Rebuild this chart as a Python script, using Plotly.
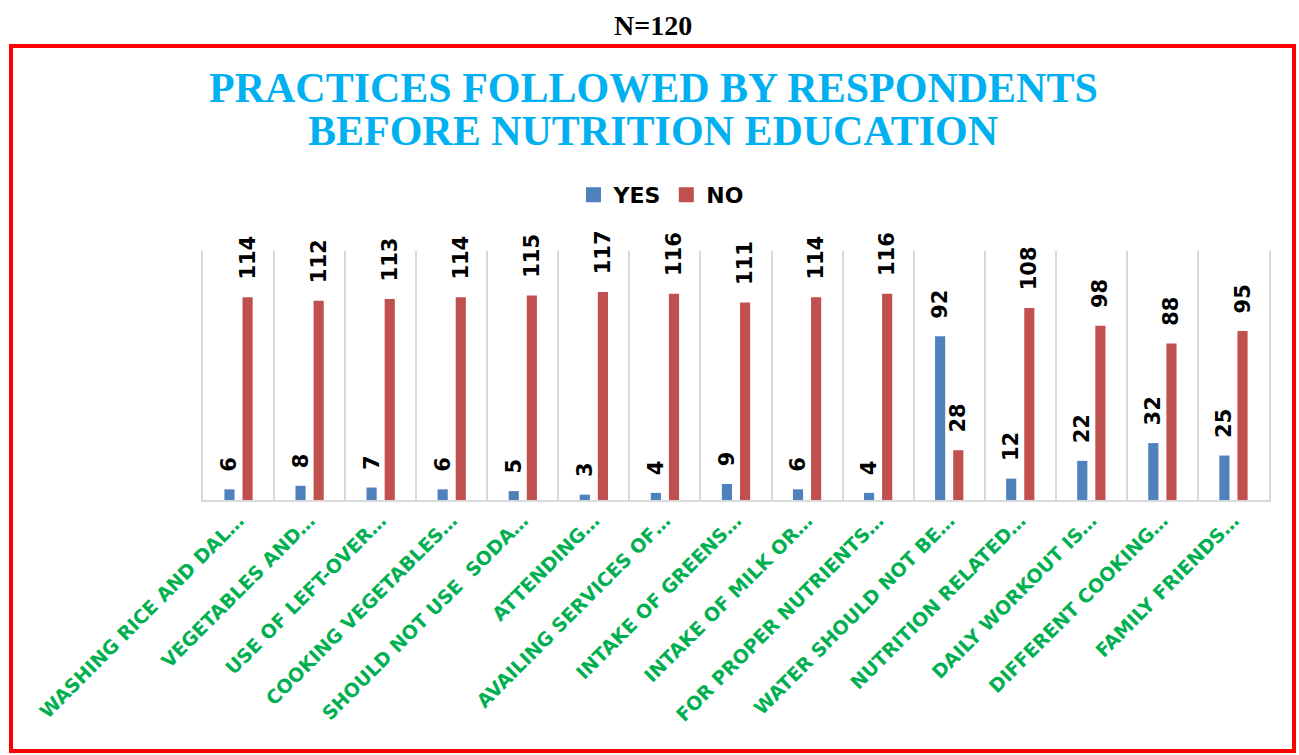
import plotly.graph_objects as go

practices = [
    "WASHING RICE AND DAL…",
    "VEGETABLES AND…",
    "USE OF LEFT-OVER…",
    "COOKING VEGETABLES…",
    "SHOULD NOT USE\u00a0\u00a0SODA…",
    "ATTENDING…",
    "AVAILING SERVICES OF…",
    "INTAKE OF GREENS…",
    "INTAKE OF MILK OR…",
    "FOR PROPER NUTRIENTS…",
    "WATER SHOULD NOT BE…",
    "NUTRITION RELATED…",
    "DAILY WORKOUT IS…",
    "DIFFERENT COOKING…",
    "FAMILY FRIENDS…",
]
yes_counts = [6, 8, 7, 6, 5, 3, 4, 9, 6, 4, 92, 12, 22, 32, 25]
no_counts = [114, 112, 113, 114, 115, 117, 116, 111, 114, 116, 28, 108, 98, 88, 95]

W, H = 1299, 755
# plot area in pixels
L, R, T, B = 203, 30, 251, 255
pw, ph = W - L - R, H - T - B


def px_x(x):
    return (x - L) / pw


def px_y(y):
    return (H - B - y) / ph


positions = list(range(len(practices)))
label_font = dict(family="DejaVu Sans", size=21, color="black", weight="bold")
title_font = dict(family="Liberation Serif, Times New Roman", size=42, color="#00B0F0", weight="bold")

fig = go.Figure()
for name, vals, color in [("YES", yes_counts, "#4F81BD"), ("NO", no_counts, "#C0504D")]:
    fig.add_trace(go.Bar(
        x=positions, y=vals, name=name, showlegend=False,
        marker=dict(color=color, line=dict(width=0)),
        text=["\u00a0\u00a0" + str(v) for v in vals],
        textposition="outside", textangle=-90,
        textfont=label_font, constraintext="none", cliponaxis=False,
    ))
    # legend-only entry with a bigger square swatch
    fig.add_trace(go.Scatter(
        x=[None], y=[None], name=name, mode="markers",
        marker=dict(symbol="square", size=15, color=color),
    ))

fig.update_layout(
    width=W, height=H,
    margin=dict(l=L, r=R, t=T, b=B),
    paper_bgcolor="white", plot_bgcolor="white",
    barmode="group", bargap=0.49, bargroupgap=0.44,
    legend=dict(
        orientation="h", x=px_x(661), xanchor="center", y=px_y(195), yanchor="middle",
        font=dict(family="DejaVu Sans", size=22, color="black", weight="bold"),
        traceorder="normal", itemwidth=30,
    ),
    xaxis=dict(
        range=[-0.5, len(practices) - 0.5], automargin=False,
        tickvals=positions, ticktext=practices, tickangle=-45,
        tickfont=dict(family="DejaVu Sans", size=19, color="#00B050", weight="bold"),
        showgrid=False, zeroline=False, ticks="",
        showline=True, linecolor="#D9D9D9", linewidth=2,
        minor=dict(tick0=-0.5, dtick=1, showgrid=True, gridcolor="#D9D9D9", gridwidth=1.5),
    ),
    yaxis=dict(
        range=[0, 140], automargin=False, showgrid=False, zeroline=False, showticklabels=False,
        showline=True, mirror=True, linecolor="#D9D9D9", linewidth=1.5,
    ),
    annotations=[
        dict(text="N=120", x=px_x(653), y=px_y(25), xref="paper", yref="paper",
             showarrow=False, xanchor="center", yanchor="middle",
             font=dict(family="Liberation Serif, Times New Roman", size=28, color="black", weight="bold")),
        dict(text="PRACTICES FOLLOWED BY RESPONDENTS", x=px_x(653), y=px_y(88),
             xref="paper", yref="paper", showarrow=False, xanchor="center", yanchor="middle",
             font=title_font),
        dict(text="BEFORE NUTRITION EDUCATION", x=px_x(653), y=px_y(131),
             xref="paper", yref="paper", showarrow=False, xanchor="center", yanchor="middle",
             font=title_font),
    ],
    shapes=[dict(
        type="rect", xref="paper", yref="paper",
        x0=px_x(11), x1=px_x(1294), y0=px_y(751), y1=px_y(46),
        line=dict(color="#FF0000", width=4), fillcolor="rgba(0,0,0,0)", layer="above",
    )],
)

fig.write_html("out.html", config={"displayModeBar": False},
               post_script="document.body.style.margin='0';")
